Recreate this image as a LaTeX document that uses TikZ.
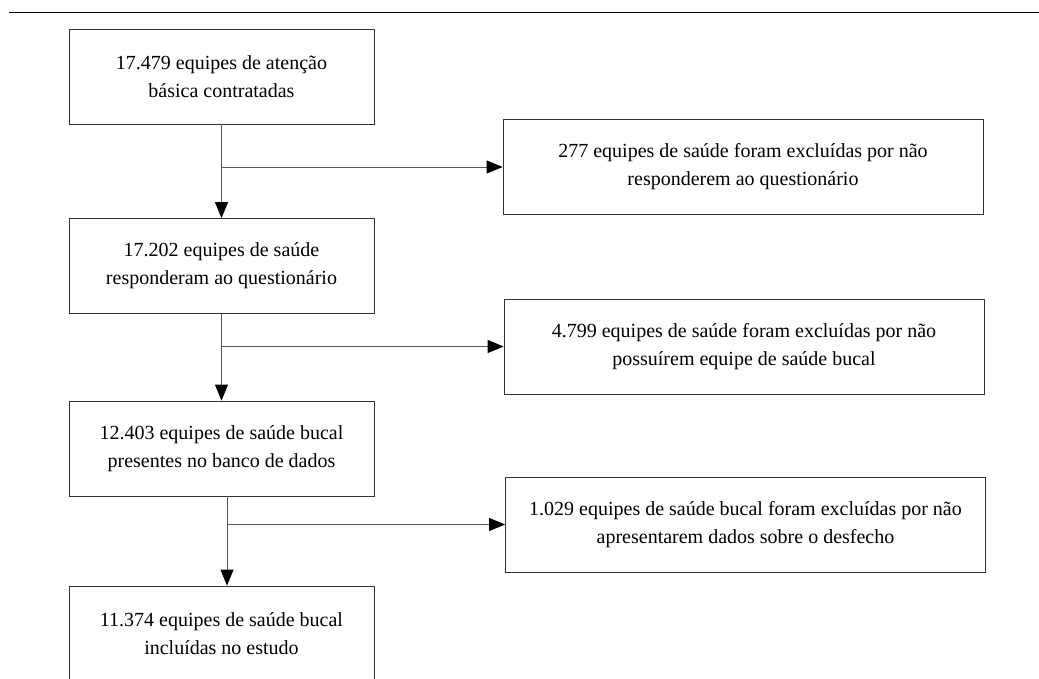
\documentclass[tikz,border=0pt]{standalone}
\usepackage{fontspec}
\setmainfont{Liberation Serif}
\usetikzlibrary{arrows.meta,positioning}

\begin{document}
\begin{tikzpicture}[x=1pt,y=-1pt,node distance=20mm,on grid,
    >={Triangle[length=16pt,width=13pt,color=black]},
    box/.style={draw=black!80, line width=0.8pt, align=center, inner sep=0pt,
      font=\fontsize{20}{28}\selectfont},
    mainbox/.style={box, minimum width=305pt, minimum height=95pt},
    exclbox/.style={box, minimum width=480pt, minimum height=95pt},
    flow/.style={draw=black!65, line width=0.9pt, ->}]
    \clip (0,0) rectangle (1039,678);
    \draw[line width=0.9pt] (9,12) -- (1039,12);

    \node[mainbox] (a) at (221.5,76.5) {17.479 equipes de atenção\\básica contratadas};
    \node[mainbox] (b) [below=189.5pt of a] {17.202 equipes de saúde\\responderam ao questionário};
    \node[mainbox] (c) [below=182.5pt of b] {12.403 equipes de saúde bucal\\presentes no banco de dados};
    \node[mainbox] (d) [below=185pt of c] {11.374 equipes de saúde bucal\\incluídas no estudo};
    \node[exclbox] (e1) [below right=90.5pt and 521.5pt of a] {277 equipes de saúde foram excluídas por não\\responderem ao questionário};
    \node[exclbox] (e2) [below right=80.5pt and 522.5pt of b] {4.799 equipes de saúde foram excluídas por não\\possuírem equipe de saúde bucal};
    \node[exclbox] (e3) [below right=76pt and 524pt of c] {1.029 equipes de saúde bucal foram excluídas por não\\apresentarem dados sobre o desfecho};

    \coordinate (c3) at ([xshift=5.5pt]c.south);

    \draw[flow] (a.south) -- (b.north);
    \draw[flow] (a.south |- e1.west) -- (e1.west);
    \draw[flow] (b.south) -- (c.north);
    \draw[flow] (b.south |- e2.west) -- (e2.west);
    \draw[flow] (c3) -- (c3 |- d.north);
    \draw[flow] (c3 |- e3.west) -- (e3.west);
\end{tikzpicture}
\end{document}
